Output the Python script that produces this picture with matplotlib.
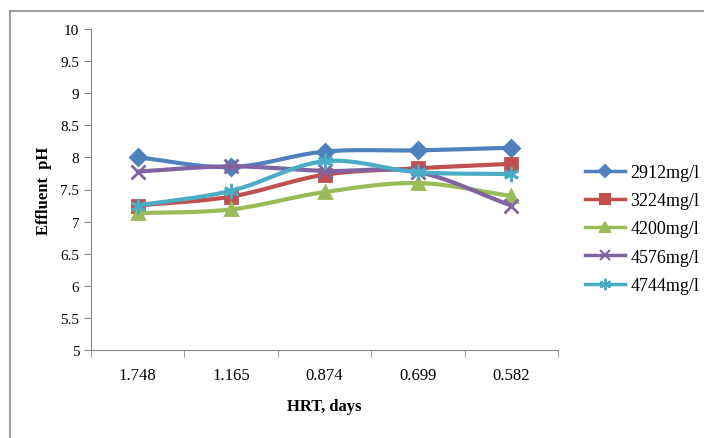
import numpy as np
import matplotlib
matplotlib.use("Agg")
import matplotlib.pyplot as plt
from matplotlib.lines import Line2D

plt.rcParams['font.family'] = ['Liberation Serif', 'DejaVu Serif']

hrt = ["1.748", "1.165", "0.874", "0.699", "0.582"]
ph_2912 = [8.00, 7.85, 8.09, 8.11, 8.15]
ph_3224 = [7.25, 7.39, 7.73, 7.83, 7.90]
ph_4200 = [7.13, 7.19, 7.46, 7.60, 7.40]
ph_4576 = [7.78, 7.86, 7.79, 7.77, 7.25]
ph_4744 = [7.25, 7.48, 7.94, 7.77, 7.74]
labels = ["2912mg/l", "3224mg/l", "4200mg/l", "4576mg/l", "4744mg/l"]

colors = ["#4F81BD", "#C0504D", "#9BBB59", "#8064A2", "#4BACC6"]
markers = ["D", "s", "^", "x", (6, 2, 0)]
msizes = [8, 9, 9, 10, 11]


def smooth(x, y, n=30):
    # catmull-rom, roughly like excel's smoothed line
    x = np.asarray(x, float)
    y = np.asarray(y, float)
    px = np.concatenate([[2 * x[0] - x[1]], x, [2 * x[-1] - x[-2]]])
    py = np.concatenate([[2 * y[0] - y[1]], y, [2 * y[-1] - y[-2]]])
    xs, ys = [], []
    t = np.linspace(0, 1, n)
    for i in range(1, len(px) - 2):
        for p, out in ((px, xs), (py, ys)):
            p0, p1, p2, p3 = p[i - 1], p[i], p[i + 1], p[i + 2]
            out.extend(0.5 * (2 * p1 + (-p0 + p2) * t
                              + (2 * p0 - 5 * p1 + 4 * p2 - p3) * t ** 2
                              + (-p0 + 3 * p1 - 3 * p2 + p3) * t ** 3))
    return xs, ys


fig = plt.figure(figsize=(7.04, 4.39), dpi=100)
ax = fig.add_axes([91 / 704, 1 - 351 / 439, (558 - 91) / 704, (351 - 30) / 439])

x = np.arange(len(hrt))
handles = []
for vals, c, m, ms, lab in zip([ph_2912, ph_3224, ph_4200, ph_4576, ph_4744],
                               colors, markers, msizes, labels):
    sx, sy = smooth(x, vals)
    ax.plot(sx, sy, color=c, lw=3, solid_capstyle='round')
    ax.plot(x, vals, ls='none', marker=m, color=c, ms=ms, mew=2)
    handles.append(Line2D([], [], color=c, lw=2.5, marker=m, ms=ms * 0.75, mew=1.5, label=lab))

ax.set_xlim(-0.5, len(hrt) - 0.5)
ax.set_ylim(5, 10)
ax.set_yticks(np.arange(5, 10.01, 0.5))
ax.set_yticklabels(["5", "5.5", "6", "6.5", "7", "7.5", "8", "8.5", "9", "9.5", "10"])
ax.set_xticks(x)
ax.set_xticklabels(hrt)
ax.set_xticks(np.arange(-0.5, len(hrt), 1), minor=True)
ax.tick_params(axis='x', which='major', length=0, pad=12, labelsize=12)
ax.tick_params(axis='x', which='minor', length=5, color='#868686')
ax.tick_params(axis='y', length=5, color='#868686', labelsize=11)

for s in ['top', 'right']:
    ax.spines[s].set_visible(False)
for s in ['left', 'bottom']:
    ax.spines[s].set_color('#868686')

ax.set_xlabel("HRT, days", fontsize=12, fontweight='bold', labelpad=11)
ax.set_ylabel("Effluent  pH", fontsize=12, fontweight='bold', labelpad=6)

fig.legend(handles=handles, loc='center left', bbox_to_anchor=(585 / 704, 1 - 230 / 439),
           frameon=False, fontsize=13, handlelength=2.2, labelspacing=0.62,
           handletextpad=0.3, borderpad=0, borderaxespad=0)

# outer chart frame
fig.add_artist(Line2D([10 / 704, 1], [1 - 12 / 439, 1 - 12 / 439], color='#8c8c8c', lw=1.2))
fig.add_artist(Line2D([10 / 704, 10 / 704], [0, 1 - 12 / 439], color='#8c8c8c', lw=1.2))

fig.savefig("out.png", dpi=100)
